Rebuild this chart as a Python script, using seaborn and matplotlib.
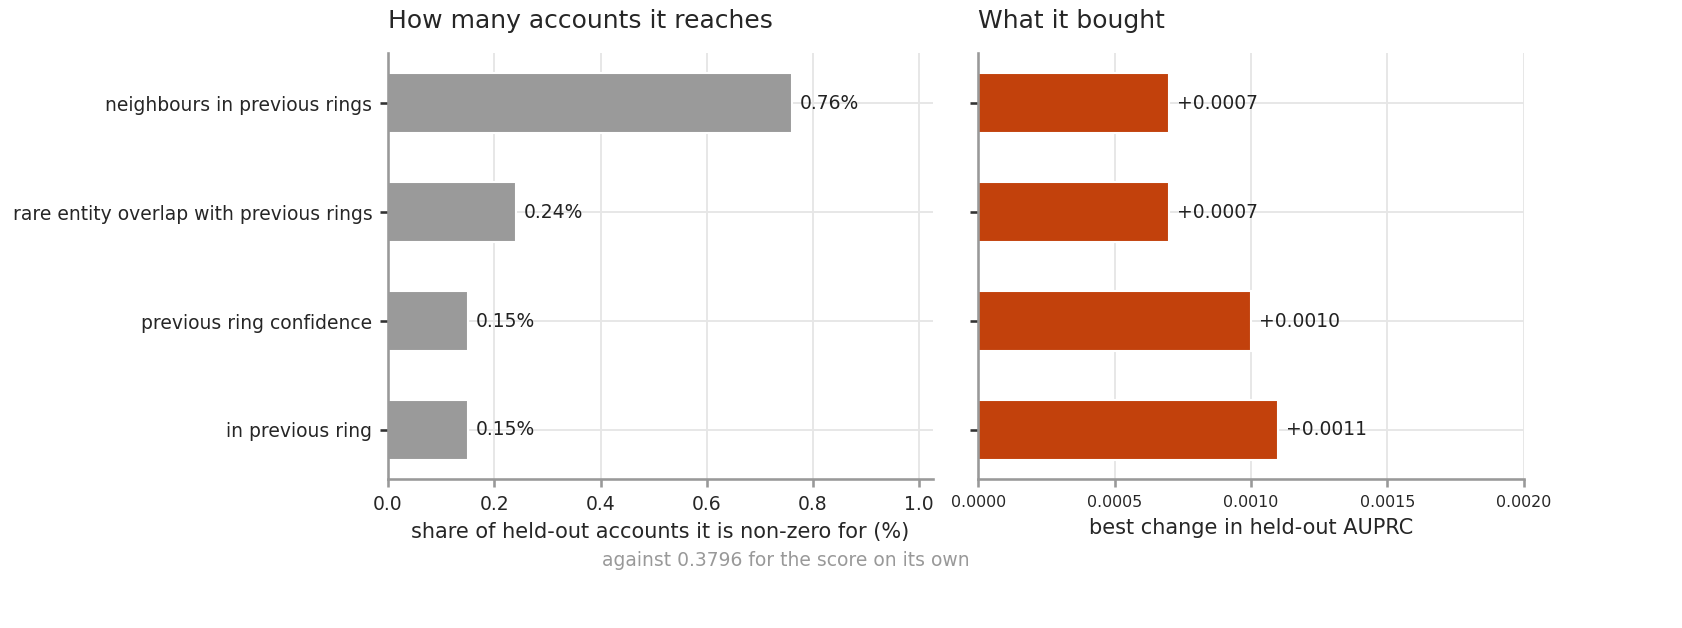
import pandas as pd
import matplotlib
matplotlib.use("Agg")
import matplotlib.pyplot as plt
import seaborn as sns

# feature names, top to bottom
features = ["neighbours in previous rings",
            "rare entity overlap with previous rings",
            "previous ring confidence",
            "in previous ring"]
# share of held-out accounts the feature is non-zero for (%)
reach_pct = [0.76, 0.24, 0.15, 0.15]
# best change in held-out AUPRC
auprc_gain = [0.0007, 0.0007, 0.0010, 0.0011]
baseline = 0.3796

df = pd.DataFrame({"feature": features, "reach": reach_pct, "gain": auprc_gain})

sns.set_theme(style="ticks")
plt.rcParams["font.family"] = ["DejaVu Sans"]

fig = plt.figure(figsize=(1682 / 150, 628 / 150), dpi=150)
ax1 = fig.add_axes([0.2307, 0.2373, 0.324, 0.6783])
ax2 = fig.add_axes([0.5815, 0.2373, 0.3245, 0.6783])

# left panel: reach
sns.barplot(data=df, y="feature", x="reach", color="#9a9a9a", width=0.55,
            saturation=1, ax=ax1)
for i, v in enumerate(reach_pct):
    ax1.text(v + 0.015, i, f"{v:.2f}%", va="center", fontsize=9, color="#222222")
ax1.set_xlim(0, max(reach_pct) * 1.35)
ax1.set_title("How many accounts it reaches", loc="left", fontsize=12, pad=12)
ax1.set_xlabel("share of held-out accounts it is non-zero for (%)", fontsize=10)
ax1.set_ylabel("")

# right panel: what it bought
sns.barplot(data=df, y="feature", x="gain", color="#c2410c", width=0.55,
            saturation=1, ax=ax2)
for i, v in enumerate(auprc_gain):
    ax2.text(v + 0.00003, i, f"+{v:.4f}", va="center", fontsize=9, color="#222222")
ax2.set_xlim(0, 0.002)
ax2.set_xticks([0, 0.0005, 0.001, 0.0015, 0.002])
ax2.set_xticklabels(["0.0000", "0.0005", "0.0010", "0.0015", "0.0020"])
ax2.set_title("What it bought", loc="left", fontsize=12, pad=12)
ax2.set_xlabel("best change in held-out AUPRC", fontsize=10)
ax2.set_ylabel("")
ax2.set_yticklabels([])

for ax in (ax1, ax2):
    ax.set_ylim(3.45, -0.46)
    ax.grid(True, color="#e6e6e6", linewidth=0.9)
    ax.set_axisbelow(True)
    for s in ("top", "right"):
        ax.spines[s].set_visible(False)
    for s in ("left", "bottom"):
        ax.spines[s].set_color("#999999")
    ax.tick_params(axis="y", labelsize=9, length=4, color="#333333")
    ax.tick_params(axis="x", length=4, color="#999999")
ax1.tick_params(axis="x", labelsize=9)
ax2.tick_params(axis="x", labelsize=7.6)

fig.text(0.467, 0.107, f"against {baseline} for the score on its own",
         ha="center", va="center", fontsize=9, color="#999999")

fig.savefig("out.png", dpi=150)
